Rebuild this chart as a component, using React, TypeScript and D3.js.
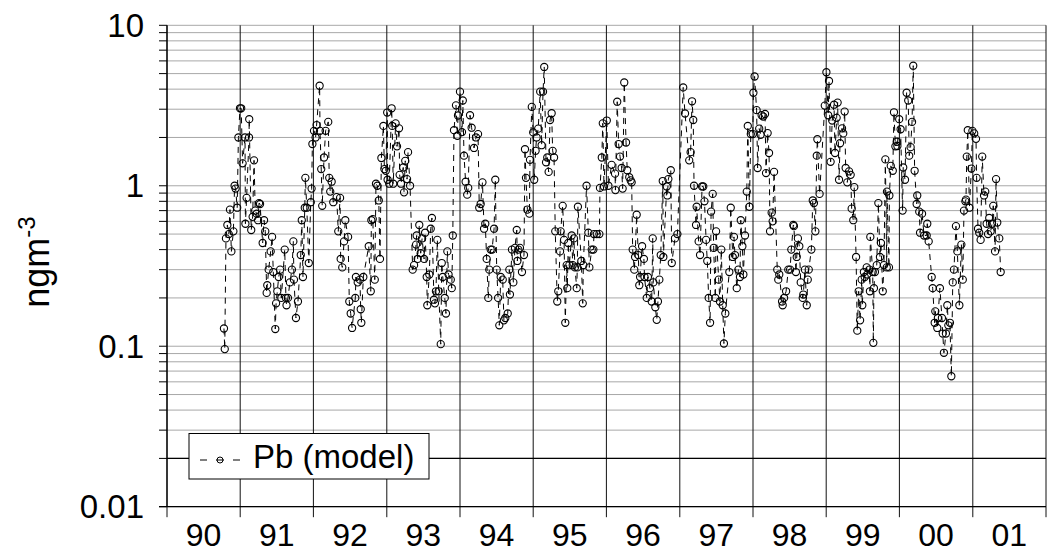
import React from 'react';
import * as d3 from 'd3';

// Pb (model) concentrations, ng m-3. Each entry: [days since 1990-01-01, value]
const pb1990_91: [number, number][] = [
  [284,0.129],[288,0.096],[294,0.47],[301,0.57],[308,0.50],[314,0.71],[321,0.39],[331,0.52],[337,1.0],[342,0.96],
  [350,0.73],[356,2.0],[364,3.04],[370,3.04],[377,1.38],[389,2.0],[391,0.58],[397,0.84],[409,2.0],[410,2.6],
  [420,0.53],[427,0.64],[434,1.44],[440,0.70],[447,0.67],[454,0.61],[459,0.78],[464,0.77],[477,0.44],[484,0.61],
  [490,0.52],[497,0.215],[500,0.24],[507,0.30],[517,0.39],[524,0.48],[530,0.29],[540,0.128],[544,0.185],[550,0.22],
  [557,0.27],[564,0.30],[570,0.20],[587,0.40],[593,0.20],[596,0.18],[603,0.20],[613,0.25],[623,0.30],[630,0.45],
  [633,0.26],[643,0.15],[653,0.19],[667,0.37],[672,0.61],[678,0.27],[687,0.73],[690,1.12],[697,0.73],[707,0.33],
  [717,0.79],[721,0.96],[725,1.82]
];
const pb1992: [number, number][] = [
  [733,2.2],[741,2.0],[746,2.39],[761,4.2],[763,2.2],[769,1.27],[774,0.75],[783,1.5],[791,2.2],[804,2.5],
  [809,1.12],[814,0.92],[821,1.06],[829,0.79],[846,0.85],[854,0.52],[863,0.84],[866,0.35],[874,0.31],[883,0.45],
  [889,0.61],[903,0.48],[909,0.19],[916,0.16],[923,0.13],[939,0.20],[942,0.27],[951,0.25],[962,0.26],[966,0.17],
  [969,0.14],[979,0.27],[1006,0.42],[1016,0.22],[1019,0.61],[1026,0.62],[1036,0.26],[1042,1.03],[1049,1.0],[1056,0.81],
  [1062,0.35],[1069,1.49],[1079,2.36],[1084,1.27],[1091,1.24]
];
const pb1993: [number, number][] = [
  [1098,2.86],[1100,1.09],[1108,1.03],[1120,3.04],[1123,2.36],[1128,1.03],[1140,2.45],[1147,1.76],[1157,2.28],[1160,1.17],
  [1167,1.03],[1178,1.3],[1182,0.91],[1188,1.43],[1197,1.1],[1202,1.62],[1212,1.0],[1225,0.30],[1232,0.32],[1242,0.43],
  [1245,0.49],[1250,0.35],[1258,0.57],[1265,0.38],[1272,0.47],[1282,0.35],[1287,0.51],[1295,0.27],[1298,0.18],[1308,0.28],
  [1315,0.54],[1321,0.63],[1331,0.195],[1336,0.185],[1341,0.22],[1348,0.46],[1355,0.22],[1365,0.103],[1370,0.33],[1375,0.27],
  [1385,0.20],[1391,0.16],[1398,0.39],[1404,0.28],[1415,0.26],[1420,0.23],[1425,0.49]
];
const pb1994: [number, number][] = [
  [1431,2.22],[1441,3.17],[1448,2.05],[1451,2.74],[1461,3.86],[1471,2.16],[1475,3.4],[1481,1.54],[1489,1.06],[1497,0.88],
  [1502,0.97],[1511,2.75],[1519,2.3],[1531,1.72],[1541,2.0],[1551,2.1],[1557,0.73],[1564,0.77],[1573,1.05],[1581,0.54],
  [1587,0.58],[1594,0.35],[1602,0.20],[1607,0.30],[1614,0.40],[1621,0.40],[1631,0.54],[1637,1.09],[1644,0.30],[1651,0.20],
  [1657,0.135],[1664,0.27],[1674,0.26],[1680,0.145],[1687,0.15],[1699,0.16],[1707,0.30],[1710,0.21],[1720,0.40],[1727,0.25],
  [1735,0.41],[1744,0.53],[1747,0.34],[1752,0.40],[1760,0.41],[1770,0.29],[1780,0.37],[1785,1.69],[1790,1.12],[1797,0.71],
  [1807,0.67],[1810,1.45],[1819,3.1]
];
const pb1995: [number, number][] = [
  [1826,2.15],[1831,1.09],[1838,1.65],[1843,2.0],[1851,2.27],[1861,3.86],[1868,1.79],[1875,3.86],[1881,5.5],[1890,1.4],
  [1896,1.5],[1903,1.22],[1910,2.57],[1918,2.83],[1923,1.65],[1930,1.5],[1936,0.52],[1946,0.19],[1951,0.22],[1960,0.39],
  [1963,0.52],[1973,0.75],[1980,0.46],[1986,0.14],[1993,0.32],[1996,0.23],[2001,0.44],[2006,0.32],[2018,0.49],[2023,0.32],
  [2029,0.47],[2034,0.31],[2043,0.23],[2046,0.31],[2049,0.74],[2066,0.34],[2073,0.185],[2076,0.32],[2092,1.0],[2101,0.51],
  [2106,0.31],[2118,0.40],[2126,0.40],[2129,0.50],[2143,0.50],[2156,0.50],[2159,0.97],[2168,1.5],[2173,2.45],[2179,0.99],
  [2193,2.55],[2201,1.0]
];
const pb1996: [number, number][] = [
  [2217,1.35],[2234,1.19],[2236,0.94],[2245,3.34],[2252,1.82],[2259,1.52],[2267,1.29],[2272,0.96],[2280,4.4],[2289,1.86],
  [2295,1.25],[2305,1.13],[2312,1.08],[2317,1.05],[2322,0.40],[2330,0.30],[2334,0.36],[2342,0.66],[2350,0.37],[2355,0.24],
  [2359,0.27],[2369,0.42],[2378,0.35],[2381,0.27],[2392,0.20],[2398,0.27],[2408,0.23],[2417,0.19],[2422,0.47],[2425,0.25],
  [2435,0.175],[2442,0.146],[2448,0.19],[2455,0.26],[2462,0.37],[2472,1.07],[2475,0.36],[2492,0.99],[2495,0.87],[2500,1.1],
  [2512,1.25],[2517,0.33],[2533,0.47],[2545,0.50]
];
const pb1997: [number, number][] = [
  [2574,4.1],[2583,2.82],[2604,1.44],[2611,1.62],[2618,3.36],[2624,2.57],[2628,1.0],[2638,0.57],[2641,0.74],[2651,0.45],
  [2658,0.37],[2668,0.99],[2674,0.99],[2680,0.8],[2688,0.46],[2694,0.34],[2701,0.20],[2708,0.14],[2713,0.69],[2721,0.89],
  [2726,0.41],[2734,0.20],[2738,0.52],[2751,0.26],[2757,0.19],[2764,0.40],[2771,0.18],[2777,0.104],[2784,0.16],[2804,0.29],
  [2811,0.73],[2821,0.36],[2827,0.48],[2832,0.37],[2841,0.23],[2849,0.30],[2857,0.27],[2861,0.61],[2869,0.42],[2874,0.28],
  [2882,0.49],[2891,0.92],[2896,2.36],[2904,0.74],[2911,2.1],[2921,2.1]
];
const pb1998: [number, number][] = [
  [2924,3.8],[2930,4.8],[2940,2.96],[2945,1.29],[2953,2.27],[2960,2.08],[2965,2.75],[2973,2.7],[2982,2.8],[2987,1.2],
  [2995,2.13],[3002,1.6],[3007,0.52],[3015,0.68],[3020,0.60],[3027,1.22],[3043,0.30],[3048,0.26],[3053,0.28],[3067,0.19],
  [3070,0.18],[3077,0.20],[3087,0.22],[3098,0.30],[3107,0.30],[3113,0.40],[3123,0.57],[3126,0.56],[3136,0.29],[3140,0.36],
  [3146,0.47],[3153,0.42],[3160,0.25],[3170,0.20],[3173,0.21],[3181,0.30],[3190,0.18],[3195,0.26],[3200,0.30],[3213,0.40],
  [3220,0.81],[3226,0.78],[3233,0.52],[3240,1.54],[3243,1.95],[3254,0.89]
];
const pb1999: [number, number][] = [
  [3280,3.16],[3288,5.1],[3297,2.75],[3301,4.5],[3309,1.41],[3317,2.55],[3326,3.2],[3331,1.6],[3339,2.65],[3344,3.3],
  [3351,1.09],[3356,1.84],[3366,2.28],[3372,2.12],[3379,2.9],[3384,1.29],[3392,1.05],[3401,1.23],[3409,1.17],[3414,0.72],
  [3422,0.61],[3427,0.98],[3436,0.36],[3442,0.125],[3449,0.22],[3456,0.145],[3464,0.26],[3467,0.18],[3475,0.29],[3479,0.27],
  [3489,0.31],[3492,0.28],[3502,0.30],[3505,0.22],[3507,0.48],[3519,0.29],[3522,0.105],[3525,0.23],[3530,0.29],[3539,0.32],
  [3547,0.78],[3555,0.36],[3560,0.44],[3569,0.22],[3575,0.32],[3582,1.46],[3589,0.31],[3590,0.92],[3600,0.31],[3602,0.87],
  [3609,1.33],[3619,1.24],[3625,2.87],[3632,1.76],[3639,1.88],[3642,1.77]
];
const pb2000: [number, number][] = [
  [3651,2.6],[3658,2.25],[3668,0.70],[3671,1.3],[3680,1.09],[3688,3.8],[3696,3.4],[3701,1.54],[3708,1.74],[3715,2.5],
  [3721,5.6],[3728,1.24],[3738,0.77],[3741,0.87],[3751,0.69],[3755,0.51],[3765,0.67],[3775,0.49],[3788,0.49],[3791,0.58],
  [3798,0.45],[3813,0.27],[3818,0.23],[3828,0.14],[3831,0.165],[3841,0.13],[3844,0.15],[3854,0.23],[3864,0.15],[3868,0.12],
  [3874,0.091],[3884,0.12],[3891,0.18],[3896,0.135],[3904,0.14],[3911,0.065],[3918,0.25],[3924,0.30],[3934,0.56],[3941,0.39],
  [3951,0.18],[3961,0.43],[3968,0.26],[3974,0.70],[3981,0.80],[3984,0.82],[3988,1.52],[3993,2.22],[4001,0.73],[4011,1.28],
  [4016,2.2]
];
const pb2001: [number, number][] = [
  [4025,2.12],[4034,1.96],[4037,1.12],[4044,0.54],[4050,0.51],[4057,0.46],[4065,1.52],[4074,0.87],[4080,0.92],[4087,0.58],
  [4094,0.50],[4100,0.63],[4107,0.52],[4114,0.58],[4120,0.75],[4129,0.39],[4134,1.1],[4140,0.59],[4150,0.47],[4157,0.29]
];

const years = [1990, 1991, 1992, 1993, 1994, 1995, 1996, 1997, 1998, 1999, 2000, 2001, 2002];
const yearLabels = ['90', '91', '92', '93', '94', '95', '96', '97', '98', '99', '00', '01'];
const yTickValues = [0.01, 0.1, 1, 10];
const yTickLabels = ['0.01', '0.1', '1', '10'];
const refLevel = 0.02;
const seriesName = 'Pb (model)';

const FONT = "'Liberation Sans', Arial, Helvetica, sans-serif";

export default function App() {
  const W = 1051, H = 553;
  const left = 167, right = 1046, top = 25.3, bottom = 506.7;

  const x = d3.scaleTime().domain([new Date(1990, 0, 1), new Date(2002, 0, 1)]).range([left, right]);
  const y = d3.scaleLog().domain([0.01, 10]).range([bottom, top]);

  const all = [...pb1990_91, ...pb1992, ...pb1993, ...pb1994, ...pb1995, ...pb1996, ...pb1997, ...pb1998, ...pb1999, ...pb2000, ...pb2001]
    .map(([d, v]) => ({ date: new Date(1990, 0, 1 + d), v }));

  const line = d3.line<{ date: Date; v: number }>().x(d => x(d.date)).y(d => y(d.v));
  const gridVals = y.ticks();

  return (
    <svg width={W} height={H} style={{ position: 'absolute', left: 0, top: 0, background: '#fff' }} fontFamily={FONT}>
      <rect x={0} y={0} width={W} height={H} fill="#fff" />
      {gridVals.map((g, i) => (
        <line key={'g' + i} x1={left} x2={right} y1={y(g)} y2={y(g)} stroke="#a8a8a8" strokeWidth={1} />
      ))}
      {gridVals.map((g, i) => (
        <line key={'yt' + i} x1={left - 8} x2={left} y1={y(g)} y2={y(g)} stroke="#000" strokeWidth={1} />
      ))}
      {years.map((yr, i) => (
        <line key={'v' + i} x1={x(new Date(yr, 0, 1))} x2={x(new Date(yr, 0, 1))} y1={top} y2={bottom + 10.5} stroke="#111" strokeWidth={1} />
      ))}
      <line x1={left} x2={right} y1={y(refLevel)} y2={y(refLevel)} stroke="#000" strokeWidth={1.2} />
      <line x1={left} x2={left} y1={top} y2={bottom} stroke="#000" strokeWidth={1.2} />
      <line x1={left - 8} x2={right} y1={bottom} y2={bottom} stroke="#000" strokeWidth={1.2} />

      <path d={line(all) || ''} fill="none" stroke="#000" strokeWidth={1} strokeDasharray="6,5" />
      {all.map((d, i) => (
        <circle key={'c' + i} cx={x(d.date)} cy={y(d.v)} r={3.6} fill="none" stroke="#000" strokeWidth={1.1} />
      ))}

      {yTickValues.map((v, i) => (
        <text key={'yl' + i} x={144} y={y(v)} textAnchor="end" dominantBaseline="central" fontSize={33} fill="#000">{yTickLabels[i]}</text>
      ))}
      {yearLabels.map((lab, i) => (
        <text key={'xl' + i} x={x(new Date(years[i], 6, 2))} y={546} textAnchor="middle" fontSize={32} fill="#000">{lab}</text>
      ))}
      <text transform={`translate(49,262) rotate(-90)`} textAnchor="middle" fontSize={36} fill="#000">
        ngm<tspan dy={-14} fontSize={24}>-3</tspan>
      </text>

      <rect x={189} y={433.5} width={240} height={45.5} fill="#fff" stroke="#000" strokeWidth={1} />
      <line x1={200} x2={207} y1={460} y2={460} stroke="#000" strokeWidth={1} />
      <line x1={216} x2={224} y1={460} y2={460} stroke="#000" strokeWidth={1} />
      <line x1={233} x2={240} y1={460} y2={460} stroke="#000" strokeWidth={1} />
      <circle cx={220} cy={460} r={3} fill="none" stroke="#000" strokeWidth={1} />
      <text x={253} y={468} fontSize={33} fill="#000">{seriesName}</text>
    </svg>
  );
}
